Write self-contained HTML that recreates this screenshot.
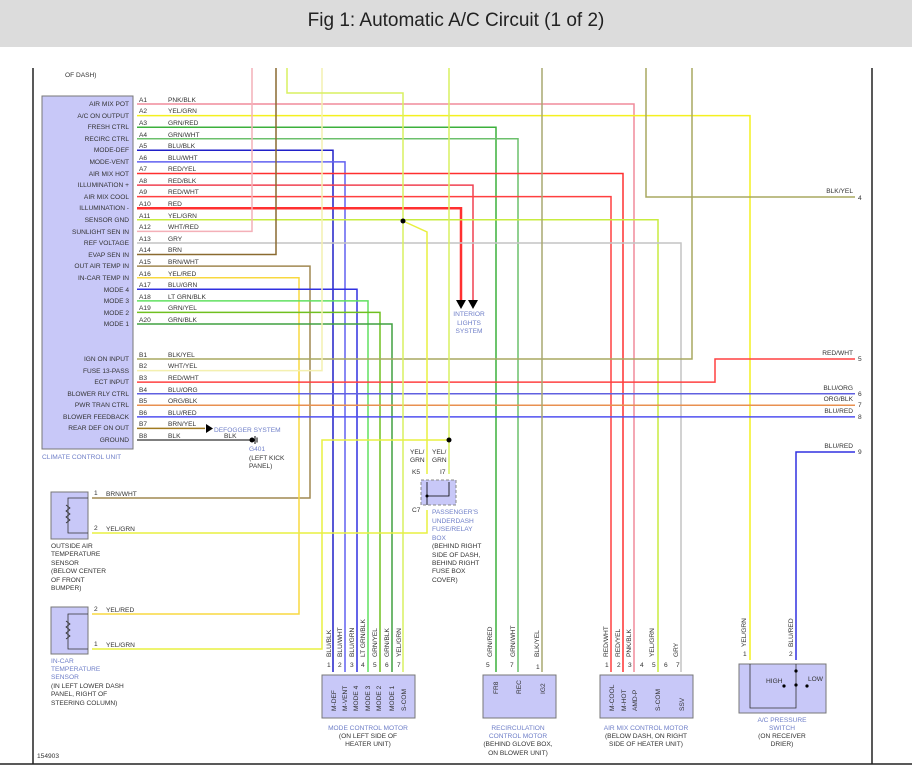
<!DOCTYPE html>
<html><head><meta charset="utf-8"><style>
html,body{margin:0;padding:0;background:#fff;}
svg{display:block;font-family:"Liberation Sans",sans-serif;}
.l{font-size:6.6px;fill:#333;}
.c{font-size:6.6px;fill:#6f7fc8;}
.w{fill:none;stroke-width:1.5;}
</style></head><body>
<svg width="912" height="781" viewBox="0 0 912 781" xmlns="http://www.w3.org/2000/svg">
<rect x="0" y="0" width="912" height="47" fill="#dcdcdc"/>
<text x="456" y="26" font-size="19" text-anchor="middle" fill="#222">Fig 1: Automatic A/C Circuit (1 of 2)</text>
<line x1="33" y1="68" x2="33" y2="764" stroke="#222" stroke-width="1.5"/>
<line x1="872" y1="68" x2="872" y2="764" stroke="#222" stroke-width="1.5"/>
<line x1="0" y1="764" x2="912" y2="764" stroke="#222" stroke-width="1.5"/>
<text x="65" y="77" class="l">OF DASH)</text>
<text x="37" y="758" class="l">154903</text>

<!-- CCU box -->
<rect x="42" y="96" width="91" height="353" fill="#c8c8f8" stroke="#777"/>
<g class="l" text-anchor="end">
<text x="129" y="106">AIR MIX POT</text><text x="129" y="118">A/C ON OUTPUT</text><text x="129" y="129">FRESH CTRL</text><text x="129" y="141">RECIRC CTRL</text><text x="129" y="152">MODE-DEF</text><text x="129" y="164">MODE-VENT</text><text x="129" y="176">AIR MIX HOT</text><text x="129" y="187">ILLUMINATION +</text><text x="129" y="199">AIR MIX COOL</text><text x="129" y="210">ILLUMINATION -</text><text x="129" y="222">SENSOR GND</text><text x="129" y="234">SUNLIGHT SEN IN</text><text x="129" y="245">REF VOLTAGE</text><text x="129" y="257">EVAP SEN IN</text><text x="129" y="268">OUT AIR TEMP IN</text><text x="129" y="280">IN-CAR TEMP IN</text><text x="129" y="292">MODE 4</text><text x="129" y="303">MODE 3</text><text x="129" y="315">MODE 2</text><text x="129" y="326">MODE 1</text>
<text x="129" y="361">IGN ON INPUT</text><text x="129" y="373">FUSE 13-PASS</text><text x="129" y="384">ECT INPUT</text><text x="129" y="396">BLOWER RLY CTRL</text><text x="129" y="407">PWR TRAN CTRL</text><text x="129" y="419">BLOWER FEEDBACK</text><text x="129" y="430">REAR DEF ON OUT</text><text x="129" y="442">GROUND</text>
</g>
<text x="42" y="459" class="c">CLIMATE CONTROL UNIT</text>
<g class="l">
<text x="139" y="102">A1</text><text x="139" y="113">A2</text><text x="139" y="125">A3</text><text x="139" y="137">A4</text><text x="139" y="148">A5</text><text x="139" y="160">A6</text><text x="139" y="171">A7</text><text x="139" y="183">A8</text><text x="139" y="194">A9</text><text x="139" y="206">A10</text><text x="139" y="218">A11</text><text x="139" y="229">A12</text><text x="139" y="241">A13</text><text x="139" y="252">A14</text><text x="139" y="264">A15</text><text x="139" y="276">A16</text><text x="139" y="287">A17</text><text x="139" y="299">A18</text><text x="139" y="310">A19</text><text x="139" y="322">A20</text>
<text x="139" y="357">B1</text><text x="139" y="368">B2</text><text x="139" y="380">B3</text><text x="139" y="392">B4</text><text x="139" y="403">B5</text><text x="139" y="415">B6</text><text x="139" y="426">B7</text><text x="139" y="438">B8</text>
<text x="168" y="102">PNK/BLK</text><text x="168" y="113">YEL/GRN</text><text x="168" y="125">GRN/RED</text><text x="168" y="137">GRN/WHT</text><text x="168" y="148">BLU/BLK</text><text x="168" y="160">BLU/WHT</text><text x="168" y="171">RED/YEL</text><text x="168" y="183">RED/BLK</text><text x="168" y="194">RED/WHT</text><text x="168" y="206">RED</text><text x="168" y="218">YEL/GRN</text><text x="168" y="229">WHT/RED</text><text x="168" y="241">GRY</text><text x="168" y="252">BRN</text><text x="168" y="264">BRN/WHT</text><text x="168" y="276">YEL/RED</text><text x="168" y="287">BLU/GRN</text><text x="168" y="299">LT GRN/BLK</text><text x="168" y="310">GRN/YEL</text><text x="168" y="322">GRN/BLK</text>
<text x="168" y="357">BLK/YEL</text><text x="168" y="368">WHT/YEL</text><text x="168" y="380">RED/WHT</text><text x="168" y="392">BLU/ORG</text><text x="168" y="403">ORG/BLK</text><text x="168" y="415">BLU/RED</text><text x="168" y="426">BRN/YEL</text><text x="168" y="438">BLK</text>
</g>

<!-- wires -->
<g class="w">
<path d="M137 104H634V672" stroke="#f08c9c"/>
<path d="M137 115.6H750V660" stroke="#f4f020"/>
<path d="M137 127.2H496V672" stroke="#3cb03c"/>
<path d="M137 138.7H518V672" stroke="#6cc06c"/>
<path d="M137 150.3H333V672" stroke="#2020c8"/>
<path d="M137 161.9H345V672" stroke="#6060f0"/>
<path d="M137 173.5H623V672" stroke="#ff3030"/>
<path d="M137 185.1H473V300" stroke="#f04050"/>
<path d="M137 196.6H611V672" stroke="#ff4040"/>
<path d="M137 208.2H461V300" stroke="#ff3030" stroke-width="2.5"/>
<path d="M137 219.8H658V672" stroke="#c8ec40"/>
<path d="M137 231.4H252V68" stroke="#f4b0b8"/>
<path d="M137 243H681V672" stroke="#c4c4c4"/>
<path d="M137 254.5H276V68" stroke="#8a6a30"/>
<path d="M137 266.1H310V498H92" stroke="#a08850"/>
<path d="M137 277.7H299V614H92" stroke="#f8d840"/>
<path d="M137 289.3H357V672" stroke="#3030e0"/>
<path d="M137 300.9H368V672" stroke="#60e060"/>
<path d="M137 312.4H380V672" stroke="#70c020"/>
<path d="M137 324H392V672" stroke="#40a040"/>
<path d="M137 359H692V68" stroke="#a8a860"/>
<path d="M137 370.6H322V68" stroke="#f4f0b0"/>
<path d="M137 382.1H715V359H855" stroke="#ff4040"/>
<path d="M137 393.7H855" stroke="#6060e0"/>
<path d="M137 405.3H855" stroke="#e89050"/>
<path d="M137 416.9H855" stroke="#5050f0"/>
<path d="M137 428.4H205" stroke="#a07a20"/>
<path d="M137 440H250" stroke="#555"/>
<path d="M646 68V197H855" stroke="#a8a860"/>
<path d="M542 68V672" stroke="#a8a870"/>
<path d="M287 68V93H403V672" stroke="#d8f060"/>
<path d="M403 221L427 232V474" stroke="#e8f040"/>
<path d="M449 68V474" stroke="#d8f060"/>
<path d="M449 440H322V649H92" stroke="#e8f040"/>
<path d="M427 510V533H92" stroke="#e8f040"/>
<path d="M855 452H796V660" stroke="#3030e0"/>
</g>
<circle cx="403" cy="221" r="2.5" fill="#000"/>
<circle cx="449" cy="440" r="2.5" fill="#000"/>
<polygon points="456,300 466,300 461,309" fill="#000"/>
<polygon points="468,300 478,300 473,309" fill="#000"/>
<text x="469" y="316" class="c" text-anchor="middle">INTERIOR</text>
<text x="469" y="325" class="c" text-anchor="middle">LIGHTS</text>
<text x="469" y="333" class="c" text-anchor="middle">SYSTEM</text>
<polygon points="206,424 206,433 213,428.5" fill="#000"/>
<text x="214" y="432" class="c">DEFOGGER SYSTEM</text>
<text x="224" y="438" class="l">BLK</text>
<circle cx="252" cy="440" r="2.5" fill="#000"/>
<line x1="255" y1="436" x2="255" y2="444" stroke="#000"/><line x1="257" y1="437.5" x2="257" y2="442.5" stroke="#000"/>
<text x="249" y="451" class="c">G401</text>
<text x="249" y="460" class="l">(LEFT KICK</text>
<text x="249" y="468" class="l">PANEL)</text>

<!-- right labels -->
<g class="l" text-anchor="end">
<text x="853" y="193">BLK/YEL</text><text x="853" y="355">RED/WHT</text><text x="853" y="390">BLU/ORG</text><text x="853" y="401">ORG/BLK</text><text x="853" y="413">BLU/RED</text><text x="853" y="448">BLU/RED</text>
</g>
<g class="l"><text x="858" y="200">4</text><text x="858" y="361">5</text><text x="858" y="396">6</text><text x="858" y="407">7</text><text x="858" y="419">8</text><text x="858" y="454">9</text></g>

<!-- fuse box -->
<rect x="421" y="480" width="35" height="25" fill="#c8c8f8" stroke="#888" stroke-dasharray="3,2"/>
<path d="M427 482V505M427 496H449V482" stroke="#000" fill="none" stroke-width="0.8"/>
<circle cx="427" cy="496" r="1.5" fill="#000"/>
<g class="l"><text x="410" y="454">YEL/</text><text x="410" y="462">GRN</text><text x="432" y="454">YEL/</text><text x="432" y="462">GRN</text><text x="412" y="474">K5</text><text x="440" y="474">I7</text><text x="412" y="512">C7</text></g>
<g class="c"><text x="432" y="514">PASSENGER'S</text><text x="432" y="523">UNDERDASH</text><text x="432" y="531">FUSE/RELAY</text><text x="432" y="540">BOX</text></g>
<g class="l"><text x="432" y="548">(BEHIND RIGHT</text><text x="432" y="557">SIDE OF DASH,</text><text x="432" y="565">BEHIND RIGHT</text><text x="432" y="573">FUSE BOX</text><text x="432" y="582">COVER)</text></g>

<!-- sensors -->
<rect x="51" y="492" width="37" height="47" fill="#c8c8f8" stroke="#777"/>
<path d="M88 498H68V533H88" fill="none" stroke="#333" stroke-width="0.8"/>
<path d="M66 505l4 3-4 3 4 3-4 3 4 3-4 3" fill="none" stroke="#333" stroke-width="0.8"/>
<rect x="51" y="607" width="37" height="47" fill="#c8c8f8" stroke="#777"/>
<path d="M88 614H68V649H88" fill="none" stroke="#333" stroke-width="0.8"/>
<path d="M66 621l4 3-4 3 4 3-4 3 4 3-4 3" fill="none" stroke="#333" stroke-width="0.8"/>
<g class="l"><text x="94" y="495">1</text><text x="106" y="496">BRN/WHT</text><text x="94" y="530">2</text><text x="106" y="531">YEL/GRN</text><text x="94" y="611">2</text><text x="106" y="612">YEL/RED</text><text x="94" y="646">1</text><text x="106" y="647">YEL/GRN</text></g>
<g class="l"><text x="51" y="548">OUTSIDE AIR</text><text x="51" y="556">TEMPERATURE</text><text x="51" y="565">SENSOR</text><text x="51" y="573">(BELOW CENTER</text><text x="51" y="582">OF FRONT</text><text x="51" y="590">BUMPER)</text></g>
<g class="c"><text x="51" y="663">IN-CAR</text><text x="51" y="671">TEMPERATURE</text><text x="51" y="679">SENSOR</text></g>
<g class="l"><text x="51" y="688">(IN LEFT LOWER DASH</text><text x="51" y="696">PANEL, RIGHT OF</text><text x="51" y="705">STEERING COLUMN)</text></g>

<!-- mode motor -->
<rect x="322" y="675" width="93" height="43" fill="#c8c8f8" stroke="#777"/>
<g class="l">
<text transform="translate(331,657) rotate(-90)">BLU/BLK</text><text transform="translate(342,657) rotate(-90)">BLU/WHT</text><text transform="translate(354,657) rotate(-90)">BLU/GRN</text><text transform="translate(365,657) rotate(-90)">LT GRN/BLK</text><text transform="translate(377,657) rotate(-90)">GRN/YEL</text><text transform="translate(389,657) rotate(-90)">GRN/BLK</text><text transform="translate(401,657) rotate(-90)">YEL/GRN</text>
<text x="327" y="667">1</text><text x="338" y="667">2</text><text x="350" y="667">3</text><text x="361" y="667">4</text><text x="373" y="667">5</text><text x="385" y="667">6</text><text x="397" y="667">7</text>
<text transform="translate(336,711) rotate(-90)">M-DEF</text><text transform="translate(347,711) rotate(-90)">M-VENT</text><text transform="translate(358,711) rotate(-90)">MODE 4</text><text transform="translate(370,711) rotate(-90)">MODE 3</text><text transform="translate(381,711) rotate(-90)">MODE 2</text><text transform="translate(394,711) rotate(-90)">MODE 1</text><text transform="translate(406,711) rotate(-90)">S-COM</text>
</g>
<text x="368" y="730" class="c" text-anchor="middle">MODE CONTROL MOTOR</text>
<text x="368" y="738" class="l" text-anchor="middle">(ON LEFT SIDE OF</text>
<text x="368" y="746" class="l" text-anchor="middle">HEATER UNIT)</text>

<!-- recirc -->
<rect x="483" y="675" width="73" height="43" fill="#c8c8f8" stroke="#777"/>
<g class="l">
<text transform="translate(492,657) rotate(-90)">GRN/RED</text><text transform="translate(515,657) rotate(-90)">GRN/WHT</text><text transform="translate(539,657) rotate(-90)">BLK/YEL</text>
<text x="486" y="667">5</text><text x="510" y="667">7</text><text x="536" y="669">1</text>
<text transform="translate(498,694) rotate(-90)">FR8</text><text transform="translate(521,694) rotate(-90)">REC</text><text transform="translate(545,694) rotate(-90)">IG2</text>
</g>
<text x="518" y="730" class="c" text-anchor="middle">RECIRCULATION</text>
<text x="518" y="738" class="c" text-anchor="middle">CONTROL MOTOR</text>
<text x="518" y="746" class="l" text-anchor="middle">(BEHIND GLOVE BOX,</text>
<text x="518" y="755" class="l" text-anchor="middle">ON BLOWER UNIT)</text>

<!-- air mix -->
<rect x="600" y="675" width="93" height="43" fill="#c8c8f8" stroke="#777"/>
<g class="l">
<text transform="translate(608,657) rotate(-90)">RED/WHT</text><text transform="translate(620,657) rotate(-90)">RED/YEL</text><text transform="translate(631,657) rotate(-90)">PNK/BLK</text><text transform="translate(654,657) rotate(-90)">YEL/GRN</text><text transform="translate(678,657) rotate(-90)">GRY</text>
<text x="605" y="667">1</text><text x="617" y="667">2</text><text x="628" y="667">3</text><text x="640" y="667">4</text><text x="652" y="667">5</text><text x="664" y="667">6</text><text x="676" y="667">7</text>
<text transform="translate(614,711) rotate(-90)">M-COOL</text><text transform="translate(626,711) rotate(-90)">M-HOT</text><text transform="translate(637,711) rotate(-90)">AMD-P</text><text transform="translate(660,711) rotate(-90)">S-COM</text><text transform="translate(684,711) rotate(-90)">SSV</text>
</g>
<text x="646" y="730" class="c" text-anchor="middle">AIR MIX CONTROL MOTOR</text>
<text x="646" y="738" class="l" text-anchor="middle">(BELOW DASH, ON RIGHT</text>
<text x="646" y="746" class="l" text-anchor="middle">SIDE OF HEATER UNIT)</text>

<!-- pressure switch -->
<rect x="739" y="664" width="87" height="49" fill="#c8c8f8" stroke="#777"/>
<path d="M750 664V708H796V664" fill="none" stroke="#333" stroke-width="0.8"/>
<circle cx="796" cy="671" r="1.6" fill="#000"/><circle cx="796" cy="685" r="1.6" fill="#000"/><circle cx="784" cy="686" r="1.6" fill="#000"/><circle cx="807" cy="686" r="1.6" fill="#000"/>
<g class="l">
<text transform="translate(746,647) rotate(-90)">YEL/GRN</text><text transform="translate(793,647) rotate(-90)">BLU/RED</text>
<text x="743" y="656">1</text><text x="789" y="656">2</text>
<text x="766" y="683">HIGH</text><text x="808" y="681">LOW</text>
</g>
<text x="782" y="722" class="c" text-anchor="middle">A/C PRESSURE</text>
<text x="782" y="730" class="c" text-anchor="middle">SWITCH</text>
<text x="782" y="738" class="l" text-anchor="middle">(ON RECEIVER</text>
<text x="782" y="746" class="l" text-anchor="middle">DRIER)</text>
</svg>
</body></html>
